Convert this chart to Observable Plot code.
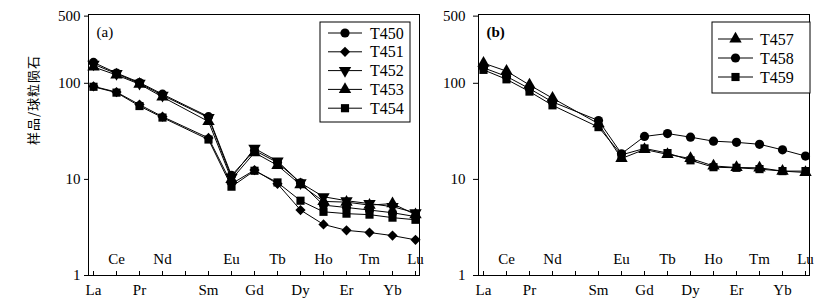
<!DOCTYPE html>
<html><head><meta charset="utf-8">
<script src="https://cdn.jsdelivr.net/npm/d3@7"></script>
<script src="https://cdn.jsdelivr.net/npm/@observablehq/plot@0.6"></script>
<style>
body{margin:0;background:#fff;}
#wrap{position:relative;width:831px;height:308px;background:#fff;}
#a{position:absolute;left:0;top:0;}
#b{position:absolute;left:425px;top:0;}
#wrap svg{font-family:'Liberation Serif','DejaVu Serif',serif;}
#wrap svg text.cjk, #wrap svg .cjk text{font-family:'Noto Sans CJK SC',sans-serif;letter-spacing:1px;}
</style></head><body><div id="wrap"><div id="a"></div><div id="b"></div></div>
<script>
const elements = ["La","Ce","Pr","Nd","Pm","Sm","Eu","Gd","Tb","Dy","Ho","Er","Tm","Yb","Lu"];
const lowerLabels = ["La","Pr","Sm","Gd","Dy","Er","Yb"];
const upperLabels = ["Ce","Nd","Eu","Tb","Ho","Tm","Lu"];
const yTicks = [1,10,100,500];
const yLabel = "样品/球粒陨石";

// Panel (a)
const seriesA = ["T450","T451","T452","T453","T454"];
const T450 = [165,128,102,77,null,45,11,20,15,9.2,5.4,5.1,4.8,4.5,4.1];
const T451 = [93,81,60,45,null,27,9.0,12.5,9.0,4.8,3.4,2.95,2.8,2.6,2.35];
const T452 = [158,126,100,75,null,44,10.5,21,15.5,9.2,6.6,6.0,5.6,5.2,4.5];
const T453 = [148,122,98,72,null,40,10.0,19,14,8.8,5.9,5.8,5.4,5.6,4.3];
const T454 = [92,80,58,44,null,26,8.4,12.3,9.3,6.0,4.6,4.4,4.3,4.0,3.8];

// Panel (b)
const seriesB = ["T457","T458","T459"];
const T457 = [162,134,96,70,null,38,16.5,20.5,18.2,16.5,13.8,13.3,13.2,12.2,11.8];
const T458 = [145,118,88,64,null,41,18.5,28,30,27.5,25,24.3,23.2,20.3,17.5];
const T459 = [138,110,82,59,null,35,18,21,18.8,15.8,13.4,13.2,12.8,12.2,12.2];

const triDown = {
  draw(context, size) {
    const s3 = Math.sqrt(3);
    const y = -Math.sqrt(size / (s3 * 3));
    context.moveTo(0, -y * 2);
    context.lineTo(-s3 * y, y);
    context.lineTo(s3 * y, y);
    context.closePath();
  }
};
const symA = [d3.symbolCircle, d3.symbolDiamond2, triDown, d3.symbolTriangle, d3.symbolSquare];
const symB = [d3.symbolTriangle, d3.symbolCircle, d3.symbolSquare];

const FONT = "'Liberation Serif','DejaVu Serif',serif";
const R = 4.6;

function tidy(names, values) {
  const out = [];
  names.forEach((n, i) => values[i].forEach((v, j) => { if (v != null) out.push({s: n, e: elements[j], v}); }));
  return out;
}

function panel(names, values, syms, o) {
  const data = tidy(names, values);
  const marks = [
    Plot.frame({stroke: "#000", strokeWidth: 1}),
    Plot.axisY({ticks: yTicks, tickFormat: () => "", tickSize: o.ytick, label: null}),
    Plot.text(yTicks, {y: d => d, text: d => String(d), frameAnchor: "left", textAnchor: "end", lineAnchor: "middle", dx: -(o.ytick + o.ypad), fontSize: 15}),
    Plot.axisX({ticks: elements, tickSize: -4, tickFormat: () => "", label: null}),
    Plot.axisX({ticks: lowerLabels, tickSize: 0, tickPadding: 9, label: null, fontSize: 15}),
    Plot.text(upperLabels, {x: d => d, frameAnchor: "bottom", lineAnchor: "middle", dy: -16, fontSize: 15}),
    Plot.text([o.tag], {frameAnchor: "top-left", lineAnchor: "middle", dx: 8, dy: 18, fontSize: 15, textAnchor: "start", fontWeight: o.tagWeight}),
    Plot.line(data, {x: "e", y: "v", z: "s", stroke: "#000", strokeWidth: 1}),
    Plot.dot(data, {x: "e", y: "v", symbol: "s", fill: "#000", stroke: "none", r: R})
  ];
  if (o.ylab) marks.push(Plot.text([yLabel], {frameAnchor: "left", lineAnchor: "middle", rotate: -90, dx: -55, dy: 0, fontSize: 13, className: "cjk"}));
  return Plot.plot({
    width: o.width, height: 308,
    marginLeft: o.ml, marginRight: o.mr, marginTop: 14, marginBottom: 33,
    style: "font-family: 'Liberation Serif', 'DejaVu Serif', serif; font-size: 15px; color: #000; background: #fff; overflow: visible;",
    x: {type: "point", domain: elements, padding: 0},
    y: {type: "log", domain: [1, 520]},
    symbol: {domain: names, range: syms},
    marks
  });
}

function legend(svg, names, syms, o) {
  const g = d3.select(svg).append("g").attr("font-family", FONT).attr("font-size", 16).attr("text-anchor", "start");
  g.append("rect").attr("x", o.x).attr("y", o.y).attr("width", o.w).attr("height", o.h)
    .attr("fill", "#fff").attr("stroke", "#000").attr("stroke-width", 1);
  names.forEach((n, i) => {
    const cy = o.y0 + i * o.step;
    g.append("line").attr("x1", o.lx1).attr("x2", o.lx2).attr("y1", cy).attr("y2", cy).attr("stroke", "#000");
    g.append("path").attr("transform", `translate(${(o.lx1 + o.lx2) / 2},${cy})`)
      .attr("d", d3.symbol().type(syms[i]).size(Math.PI * R * R)()).attr("fill", "#000");
    g.append("text").attr("x", o.tx).attr("y", cy).attr("dy", "0.35em").attr("text-anchor", "start").text(n);
  });
}

const pa = panel(seriesA, [T450, T451, T452, T453, T454], symA,
  {width: 425, ml: 88, mr: 6, ytick: 4, ypad: 4, tag: "(a)", tagWeight: "normal", ylab: true});
document.getElementById("a").appendChild(pa);
legend(pa, seriesA, symA, {x: 320, y: 22, w: 90, h: 100, y0: 33, step: 18.8, lx1: 328, lx2: 362, tx: 370});

const pb = panel(seriesB, [T457, T458, T459], symB,
  {width: 406, ml: 53, mr: 22, ytick: 5, ypad: 8, tag: "(b)", tagWeight: "bold", ylab: false});
document.getElementById("b").appendChild(pb);
legend(pb, seriesB, symB, {x: 287, y: 22, w: 98, h: 71, y0: 39, step: 19, lx1: 293, lx2: 328, tx: 335});
</script>
</body></html>
